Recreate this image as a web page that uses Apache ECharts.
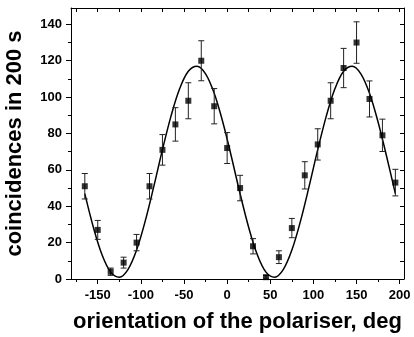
<!DOCTYPE html>
<html><head><meta charset="utf-8">
<script src="https://cdn.jsdelivr.net/npm/echarts@6/dist/echarts.min.js"></script>
<style>html,body{margin:0;padding:0;background:#fff}#c{width:414px;height:337px}</style>
</head><body><div id="c"></div>
<script>
// Measured data
const angles = [-165,-150,-135,-120,-105,-90,-75,-60,-45,-30,-15,0,15,30,45,60,75,90,105,120,135,150,165,180,195];
const counts = [51,27,4,9,20,51,71,85,98,120,95,72,50,18,1,12,28,57,74,98,116,130,99,79,53];
const errors = [7,5.2,2,3,4.5,7,8.4,9.2,9.9,11,9.7,8.5,7,4.2,1,3.5,5.3,7.5,8.6,9.9,10.8,11.4,9.9,8.9,7.3];
// Fit curve
const fitX = [-165,-155,-145,-135,-125,-115,-105,-95,-85,-75,-65,-55,-45,-35,-25,-15,-5,5,15,25,35,45,55,65,75,85,95,105,115,125,135,145,155,165,175,185,195];
const fitY = [46.9,28.3,13.3,3.8,1.0,5.2,15.9,31.8,50.9,71.1,89.7,104.7,114.2,117.0,112.8,102.1,86.2,67.1,46.9,28.3,13.3,3.8,1.0,5.2,15.9,31.8,50.9,71.1,89.7,104.7,114.2,117.0,112.8,102.1,86.2,67.1,46.9];
const xMajor = [-150,-100,-50,0,50,100,150,200];
const xMinor = [-175,-125,-75,-25,25,75,125,175];
const xTop = [-175,-150,-125,-100,-75,-50,-25,0,25,50,75,100,125,150,175,200];
const yMajor = [0,20,40,60,80,100,120,140];
const yMinor = [10,30,50,70,90,110,130];
const yRight = [10,20,30,40,50,60,70,80,90,100,110,120,130,140];
const xTitle = 'orientation of the polariser, deg';
const yTitle = 'coincidences in 200 s';

const XMIN=-181, XMAX=205, YMIN=0, YMAX=149;
const font = 'Liberation Sans, Arial, sans-serif';
const blk = '#000';

const chart = echarts.init(document.getElementById('c'), null, {renderer:'canvas'});
const pts = angles.map((a,i)=>[a,counts[i]]);
const ebars = angles.map((a,i)=>[a,counts[i]-errors[i],counts[i]+errors[i]]);
const fit = fitX.map((x,i)=>[x,fitY[i]]);

chart.setOption({
  animation:false,
  grid:{left:71,right:10,top:8,bottom:58,containLabel:false,outerBoundsMode:'none'},
  xAxis:[
    {type:'value',position:'bottom',min:XMIN,max:XMAX,
     axisLine:{show:true,onZero:false,lineStyle:{color:blk,width:1}},
     axisTick:{show:true,inside:false,length:5,customValues:xMajor,lineStyle:{color:blk}},
     axisLabel:{show:true,customValues:xMajor,color:blk,fontFamily:font,fontWeight:'bold',fontSize:13,margin:10},
     splitLine:{show:false},
     name:xTitle,nameLocation:'middle',nameGap:32,
     nameTextStyle:{color:blk,fontFamily:font,fontWeight:'bold',fontSize:22}},
    {type:'value',position:'bottom',min:XMIN,max:XMAX,
     axisLine:{show:false,onZero:false},
     axisTick:{show:true,inside:false,length:3,customValues:xMinor,lineStyle:{color:blk}},
     axisLabel:{show:false},splitLine:{show:false}},
    {type:'value',position:'top',min:XMIN,max:XMAX,
     axisLine:{show:true,onZero:false,lineStyle:{color:blk,width:1}},
     axisTick:{show:true,inside:true,length:4,customValues:xTop,lineStyle:{color:blk}},
     axisLabel:{show:false},splitLine:{show:false}}
  ],
  yAxis:[
    {type:'value',position:'left',min:YMIN,max:YMAX,
     axisLine:{show:true,onZero:false,lineStyle:{color:blk,width:1}},
     axisTick:{show:true,inside:false,length:5,customValues:yMajor,lineStyle:{color:blk}},
     axisLabel:{show:true,customValues:yMajor,color:blk,fontFamily:font,fontWeight:'bold',fontSize:13,margin:9},
     splitLine:{show:false},
     name:yTitle,nameLocation:'middle',nameGap:45,
     nameTextStyle:{color:blk,fontFamily:font,fontWeight:'bold',fontSize:22}},
    {type:'value',position:'left',min:YMIN,max:YMAX,
     axisLine:{show:false,onZero:false},
     axisTick:{show:true,inside:false,length:3,customValues:yMinor,lineStyle:{color:blk}},
     axisLabel:{show:false},splitLine:{show:false}},
    {type:'value',position:'right',min:YMIN,max:YMAX,
     axisLine:{show:true,onZero:false,lineStyle:{color:blk,width:1}},
     axisTick:{show:true,inside:true,length:4,customValues:yRight,lineStyle:{color:blk}},
     axisLabel:{show:false},splitLine:{show:false}}
  ],
  series:[
    {type:'line',data:fit,smooth:0.35,showSymbol:false,symbol:'none',
     lineStyle:{color:blk,width:1.5},xAxisIndex:0,yAxisIndex:0,z:2},
    {type:'custom',xAxisIndex:0,yAxisIndex:0,data:ebars,z:3,
     renderItem:function(params,api){
       const x=api.value(0), lo=api.value(1), hi=api.value(2);
       const p1=api.coord([x,lo]), p2=api.coord([x,hi]);
       const w=3;
       const st={stroke:'#222',lineWidth:1};
       return {type:'group',children:[
         {type:'line',shape:{x1:p1[0],y1:p1[1],x2:p2[0],y2:p2[1]},style:st},
         {type:'line',shape:{x1:p1[0]-w,y1:p1[1],x2:p1[0]+w,y2:p1[1]},style:st},
         {type:'line',shape:{x1:p2[0]-w,y1:p2[1],x2:p2[0]+w,y2:p2[1]},style:st}
       ]};
     }},
    {type:'scatter',data:pts,symbol:'rect',symbolSize:6,
     itemStyle:{color:blk},xAxisIndex:0,yAxisIndex:0,z:4}
  ]
});
</script></body></html>
